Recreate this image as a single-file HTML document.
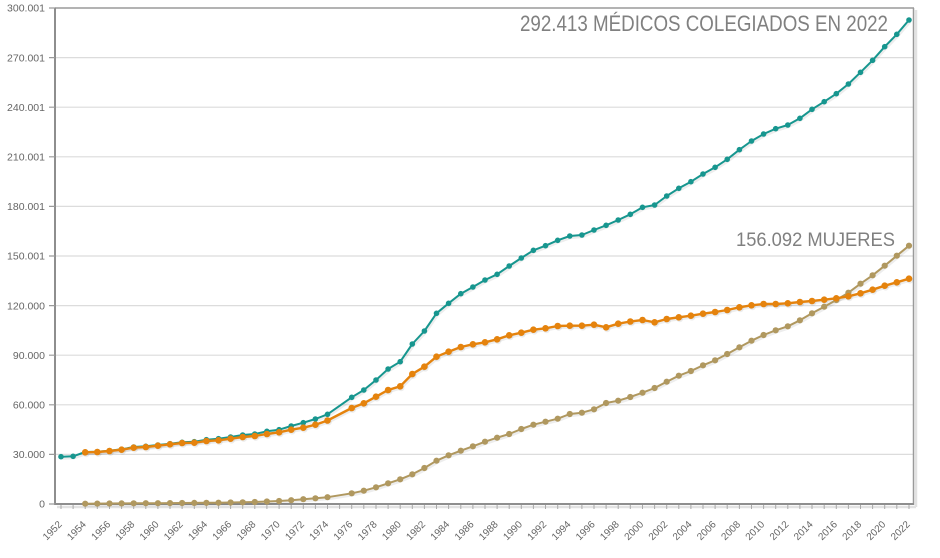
<!DOCTYPE html>
<html>
<head>
<meta charset="utf-8">
<style>
  html,body{margin:0;padding:0;background:#fff;}
  svg{display:block;}
  text{font-family:"Liberation Sans", Tahoma, sans-serif;}
</style>
</head>
<body>
<svg width="940" height="558" viewBox="0 0 940 558" xmlns="http://www.w3.org/2000/svg">
  <defs>
    <marker id="mt" markerWidth="8" markerHeight="8" refX="4" refY="4" markerUnits="userSpaceOnUse">
      <circle cx="4" cy="4" r="2.8" fill="#17968f"/>
    </marker>
    <marker id="mo" markerWidth="10" markerHeight="10" refX="5" refY="5" markerUnits="userSpaceOnUse">
      <circle cx="5" cy="5" r="3.3" fill="#e5830d"/>
    </marker>
    <marker id="mw" markerWidth="10" markerHeight="10" refX="5" refY="5" markerUnits="userSpaceOnUse">
      <circle cx="5" cy="5" r="3.1" fill="#b0985f"/>
    </marker>
    <marker id="ms" markerWidth="10" markerHeight="10" refX="5" refY="5" markerUnits="userSpaceOnUse">
      <circle cx="5" cy="5" r="3.3" fill="rgba(0,0,0,0.07)"/>
    </marker>
  </defs>

  <!-- grid lines -->
  <g stroke="#dcdcdc" stroke-width="1.2">
    <line x1="56" y1="57.6" x2="913" y2="57.6"/>
    <line x1="56" y1="107.2" x2="913" y2="107.2"/>
    <line x1="56" y1="156.8" x2="913" y2="156.8"/>
    <line x1="56" y1="206.4" x2="913" y2="206.4"/>
    <line x1="56" y1="256.0" x2="913" y2="256.0"/>
    <line x1="56" y1="305.6" x2="913" y2="305.6"/>
    <line x1="56" y1="355.2" x2="913" y2="355.2"/>
    <line x1="56" y1="404.8" x2="913" y2="404.8"/>
    <line x1="56" y1="454.4" x2="913" y2="454.4"/>
  </g>

  <!-- frame shadow -->
  <line x1="916" y1="10" x2="916" y2="507" stroke="#e2e2e2" stroke-width="2.5"/>
  <line x1="57" y1="507" x2="916" y2="507" stroke="#e2e2e2" stroke-width="2.5"/>
  <!-- frame -->
  <line x1="55" y1="8" x2="914" y2="8" stroke="#9a9a9a" stroke-width="1.5"/>
  <line x1="913.5" y1="8" x2="913.5" y2="505" stroke="#9a9a9a" stroke-width="1.5"/>
  <line x1="55" y1="7.5" x2="55" y2="505" stroke="#8e8e8e" stroke-width="2"/>
  <line x1="54" y1="504" x2="914" y2="504" stroke="#8e8e8e" stroke-width="2"/>

  <!-- y ticks -->
  <path stroke="#9a9a9a" stroke-width="1.2" d="M49 8h6M49 57.6h6M49 107.2h6M49 156.8h6M49 206.4h6M49 256h6M49 305.6h6M49 355.2h6M49 404.8h6M49 454.4h6M49 504h6"/>

  <!-- x ticks -->
  <path stroke="#aaa" stroke-width="1" d="M61 505v4M73.1 505v4M85.2 505v4M97.3 505v4M109.5 505v4M121.6 505v4M133.7 505v4M145.8 505v4M157.9 505v4M170 505v4M182.1 505v4M194.3 505v4M206.4 505v4M218.5 505v4M230.6 505v4M242.7 505v4M254.8 505v4M266.9 505v4M279.1 505v4M291.2 505v4M303.3 505v4M315.4 505v4M327.5 505v4M339.6 505v4M351.7 505v4M363.8 505v4M376 505v4M388.1 505v4M400.2 505v4M412.3 505v4M424.4 505v4M436.5 505v4M448.6 505v4M460.8 505v4M472.9 505v4M485 505v4M497.1 505v4M509.2 505v4M521.3 505v4M533.4 505v4M545.5 505v4M557.7 505v4M569.8 505v4M581.9 505v4M594 505v4M606.1 505v4M618.2 505v4M630.3 505v4M642.5 505v4M654.6 505v4M666.7 505v4M678.8 505v4M690.9 505v4M703 505v4M715.1 505v4M727.2 505v4M739.4 505v4M751.5 505v4M763.6 505v4M775.7 505v4M787.8 505v4M799.9 505v4M812 505v4M824.2 505v4M836.3 505v4M848.4 505v4M860.5 505v4M872.6 505v4M884.7 505v4M896.8 505v4M909 505v4"/>

  <!-- y labels -->
  <g font-size="10.5" fill="#666" text-anchor="end">
    <text x="45" y="11.7">300.001</text>
    <text x="45" y="61.3">270.001</text>
    <text x="45" y="110.9">240.001</text>
    <text x="45" y="160.5">210.001</text>
    <text x="45" y="210.1">180.001</text>
    <text x="45" y="259.7">150.001</text>
    <text x="45" y="309.3">120.000</text>
    <text x="45" y="358.9">90.000</text>
    <text x="45" y="408.5">60.000</text>
    <text x="45" y="458.1">30.000</text>
    <text x="45" y="507.7">0</text>
  </g>

  <!-- x labels -->
  <g font-size="10" fill="#666" text-anchor="end">
    <text transform="translate(62.5,525) rotate(-45)">1952</text>
    <text transform="translate(86.7,525) rotate(-45)">1954</text>
    <text transform="translate(111,525) rotate(-45)">1956</text>
    <text transform="translate(135.2,525) rotate(-45)">1958</text>
    <text transform="translate(159.4,525) rotate(-45)">1960</text>
    <text transform="translate(183.6,525) rotate(-45)">1962</text>
    <text transform="translate(207.9,525) rotate(-45)">1964</text>
    <text transform="translate(232.1,525) rotate(-45)">1966</text>
    <text transform="translate(256.3,525) rotate(-45)">1968</text>
    <text transform="translate(280.6,525) rotate(-45)">1970</text>
    <text transform="translate(304.8,525) rotate(-45)">1972</text>
    <text transform="translate(329,525) rotate(-45)">1974</text>
    <text transform="translate(353.2,525) rotate(-45)">1976</text>
    <text transform="translate(377.5,525) rotate(-45)">1978</text>
    <text transform="translate(401.7,525) rotate(-45)">1980</text>
    <text transform="translate(425.9,525) rotate(-45)">1982</text>
    <text transform="translate(450.1,525) rotate(-45)">1984</text>
    <text transform="translate(474.4,525) rotate(-45)">1986</text>
    <text transform="translate(498.6,525) rotate(-45)">1988</text>
    <text transform="translate(522.8,525) rotate(-45)">1990</text>
    <text transform="translate(547,525) rotate(-45)">1992</text>
    <text transform="translate(571.3,525) rotate(-45)">1994</text>
    <text transform="translate(595.5,525) rotate(-45)">1996</text>
    <text transform="translate(619.7,525) rotate(-45)">1998</text>
    <text transform="translate(644,525) rotate(-45)">2000</text>
    <text transform="translate(668.2,525) rotate(-45)">2002</text>
    <text transform="translate(692.4,525) rotate(-45)">2004</text>
    <text transform="translate(716.6,525) rotate(-45)">2006</text>
    <text transform="translate(740.9,525) rotate(-45)">2008</text>
    <text transform="translate(765.1,525) rotate(-45)">2010</text>
    <text transform="translate(789.3,525) rotate(-45)">2012</text>
    <text transform="translate(813.5,525) rotate(-45)">2014</text>
    <text transform="translate(837.8,525) rotate(-45)">2016</text>
    <text transform="translate(862,525) rotate(-45)">2018</text>
    <text transform="translate(886.2,525) rotate(-45)">2020</text>
    <text transform="translate(910.5,525) rotate(-45)">2022</text>
  </g>

  <!-- series shadows -->
  <g transform="translate(1,1.6)" fill="none" stroke="rgba(0,0,0,0.07)" stroke-width="3" stroke-linejoin="round">
    <polyline points="61.0,456.7 73.1,456.3 85.2,452.0 97.3,451.7 109.5,450.7 121.6,449.3 133.7,447.0 145.8,446.3 157.9,445.0 170.0,443.7 182.1,442.3 194.3,441.7 206.4,439.7 218.5,438.7 230.6,437.0 242.7,435.0 254.8,434.0 266.9,431.3 279.1,429.7 291.2,426.0 303.3,422.7 315.4,419.0 327.5,414.3 351.7,397.3 363.8,390.0 376.0,380.0 388.1,369.0 400.2,361.7 412.3,344.0 424.4,331.0 436.5,313.3 448.6,303.3 460.8,293.7 472.9,287.0 485.0,280.0 497.1,274.3 509.2,266.0 521.3,258.0 533.4,250.3 545.5,245.7 557.7,240.3 569.8,236.0 581.9,235.0 594.0,230.0 606.1,225.3 618.2,220.0 630.3,214.3 642.5,207.3 654.6,205.0 666.7,196.0 678.8,188.3 690.9,181.7 703.0,174.0 715.1,167.3 727.2,159.3 739.4,149.7 751.5,141.0 763.6,134.0 775.7,128.7 787.8,125.0 799.9,118.3 812.0,109.3 824.2,101.7 836.3,93.7 848.4,84.0 860.5,72.3 872.6,60.3 884.7,46.7 896.8,34.3 909.0,20.0"/>
    <polyline marker-start="url(#ms)" marker-mid="url(#ms)" marker-end="url(#ms)" points="85.2,452.3 97.3,452.0 109.5,451.0 121.6,449.7 133.7,447.7 145.8,447.0 157.9,445.7 170.0,444.3 182.1,443.0 194.3,442.7 206.4,441.0 218.5,440.3 230.6,438.7 242.7,437.0 254.8,436.0 266.9,434.0 279.1,432.3 291.2,429.7 303.3,427.7 315.4,424.7 327.5,420.5 351.7,408.0 363.8,403.3 376.0,396.7 388.1,390.0 400.2,386.3 412.3,374.0 424.4,366.7 436.5,356.7 448.6,351.7 460.8,347.0 472.9,344.3 485.0,342.3 497.1,339.3 509.2,335.3 521.3,332.7 533.4,329.7 545.5,328.3 557.7,326.0 569.8,325.7 581.9,325.7 594.0,324.7 606.1,327.3 618.2,323.7 630.3,321.5 642.5,320.0 654.6,322.3 666.7,319.0 678.8,317.3 690.9,315.7 703.0,313.7 715.1,312.0 727.2,310.0 739.4,307.3 751.5,305.3 763.6,304.0 775.7,304.0 787.8,303.3 799.9,302.0 812.0,301.0 824.2,299.7 836.3,298.3 848.4,296.3 860.5,293.3 872.6,289.7 884.7,285.7 896.8,282.3 909.0,278.7"/>
    <polyline points="85.2,503.7 97.3,503.6 109.5,503.5 121.6,503.4 133.7,503.3 145.8,503.2 157.9,503.2 170.0,503.1 182.1,503.0 194.3,502.9 206.4,502.8 218.5,502.7 230.6,502.5 242.7,502.3 254.8,502.0 266.9,501.5 279.1,501.0 291.2,500.2 303.3,499.2 315.4,498.3 327.5,497.2 351.7,493.3 363.8,490.7 376.0,487.3 388.1,483.3 400.2,479.3 412.3,474.3 424.4,468.0 436.5,460.7 448.6,455.3 460.8,450.7 472.9,446.3 485.0,441.7 497.1,437.7 509.2,434.0 521.3,429.0 533.4,424.7 545.5,421.7 557.7,418.7 569.8,414.0 581.9,412.7 594.0,409.3 606.1,403.0 618.2,400.7 630.3,397.0 642.5,392.7 654.6,388.0 666.7,381.7 678.8,375.7 690.9,371.0 703.0,365.3 715.1,360.3 727.2,354.0 739.4,347.3 751.5,340.7 763.6,335.0 775.7,330.3 787.8,326.3 799.9,320.3 812.0,313.3 824.2,306.7 836.3,300.0 848.4,292.7 860.5,283.7 872.6,275.3 884.7,265.7 896.8,255.7 909.0,245.7"/>
  </g>

  <!-- total (teal) -->
  <polyline fill="none" stroke="#17968f" stroke-width="2" stroke-linejoin="round" marker-start="url(#mt)" marker-mid="url(#mt)" marker-end="url(#mt)" points="61.0,456.7 73.1,456.3 85.2,452.0 97.3,451.7 109.5,450.7 121.6,449.3 133.7,447.0 145.8,446.3 157.9,445.0 170.0,443.7 182.1,442.3 194.3,441.7 206.4,439.7 218.5,438.7 230.6,437.0 242.7,435.0 254.8,434.0 266.9,431.3 279.1,429.7 291.2,426.0 303.3,422.7 315.4,419.0 327.5,414.3 351.7,397.3 363.8,390.0 376.0,380.0 388.1,369.0 400.2,361.7 412.3,344.0 424.4,331.0 436.5,313.3 448.6,303.3 460.8,293.7 472.9,287.0 485.0,280.0 497.1,274.3 509.2,266.0 521.3,258.0 533.4,250.3 545.5,245.7 557.7,240.3 569.8,236.0 581.9,235.0 594.0,230.0 606.1,225.3 618.2,220.0 630.3,214.3 642.5,207.3 654.6,205.0 666.7,196.0 678.8,188.3 690.9,181.7 703.0,174.0 715.1,167.3 727.2,159.3 739.4,149.7 751.5,141.0 763.6,134.0 775.7,128.7 787.8,125.0 799.9,118.3 812.0,109.3 824.2,101.7 836.3,93.7 848.4,84.0 860.5,72.3 872.6,60.3 884.7,46.7 896.8,34.3 909.0,20.0"/>

  <!-- women (tan) -->
  <polyline fill="none" stroke="#b0985f" stroke-width="2" stroke-linejoin="round" marker-start="url(#mw)" marker-mid="url(#mw)" marker-end="url(#mw)" points="85.2,503.7 97.3,503.6 109.5,503.5 121.6,503.4 133.7,503.3 145.8,503.2 157.9,503.2 170.0,503.1 182.1,503.0 194.3,502.9 206.4,502.8 218.5,502.7 230.6,502.5 242.7,502.3 254.8,502.0 266.9,501.5 279.1,501.0 291.2,500.2 303.3,499.2 315.4,498.3 327.5,497.2 351.7,493.3 363.8,490.7 376.0,487.3 388.1,483.3 400.2,479.3 412.3,474.3 424.4,468.0 436.5,460.7 448.6,455.3 460.8,450.7 472.9,446.3 485.0,441.7 497.1,437.7 509.2,434.0 521.3,429.0 533.4,424.7 545.5,421.7 557.7,418.7 569.8,414.0 581.9,412.7 594.0,409.3 606.1,403.0 618.2,400.7 630.3,397.0 642.5,392.7 654.6,388.0 666.7,381.7 678.8,375.7 690.9,371.0 703.0,365.3 715.1,360.3 727.2,354.0 739.4,347.3 751.5,340.7 763.6,335.0 775.7,330.3 787.8,326.3 799.9,320.3 812.0,313.3 824.2,306.7 836.3,300.0 848.4,292.7 860.5,283.7 872.6,275.3 884.7,265.7 896.8,255.7 909.0,245.7"/>

  <!-- men (orange) -->
  <polyline fill="none" stroke="#e5830d" stroke-width="2.4" stroke-linejoin="round" marker-start="url(#mo)" marker-mid="url(#mo)" marker-end="url(#mo)" points="85.2,452.3 97.3,452.0 109.5,451.0 121.6,449.7 133.7,447.7 145.8,447.0 157.9,445.7 170.0,444.3 182.1,443.0 194.3,442.7 206.4,441.0 218.5,440.3 230.6,438.7 242.7,437.0 254.8,436.0 266.9,434.0 279.1,432.3 291.2,429.7 303.3,427.7 315.4,424.7 327.5,420.5 351.7,408.0 363.8,403.3 376.0,396.7 388.1,390.0 400.2,386.3 412.3,374.0 424.4,366.7 436.5,356.7 448.6,351.7 460.8,347.0 472.9,344.3 485.0,342.3 497.1,339.3 509.2,335.3 521.3,332.7 533.4,329.7 545.5,328.3 557.7,326.0 569.8,325.7 581.9,325.7 594.0,324.7 606.1,327.3 618.2,323.7 630.3,321.5 642.5,320.0 654.6,322.3 666.7,319.0 678.8,317.3 690.9,315.7 703.0,313.7 715.1,312.0 727.2,310.0 739.4,307.3 751.5,305.3 763.6,304.0 775.7,304.0 787.8,303.3 799.9,302.0 812.0,301.0 824.2,299.7 836.3,298.3 848.4,296.3 860.5,293.3 872.6,289.7 884.7,285.7 896.8,282.3 909.0,278.7"/>

  <!-- annotations -->
  <text x="520" y="31" font-size="22" fill="#808080" textLength="368" lengthAdjust="spacingAndGlyphs">292.413 MÉDICOS COLEGIADOS EN 2022</text>
  <text x="736" y="246" font-size="19.5" fill="#808080" textLength="159" lengthAdjust="spacingAndGlyphs">156.092 MUJERES</text>
</svg>
</body>
</html>
